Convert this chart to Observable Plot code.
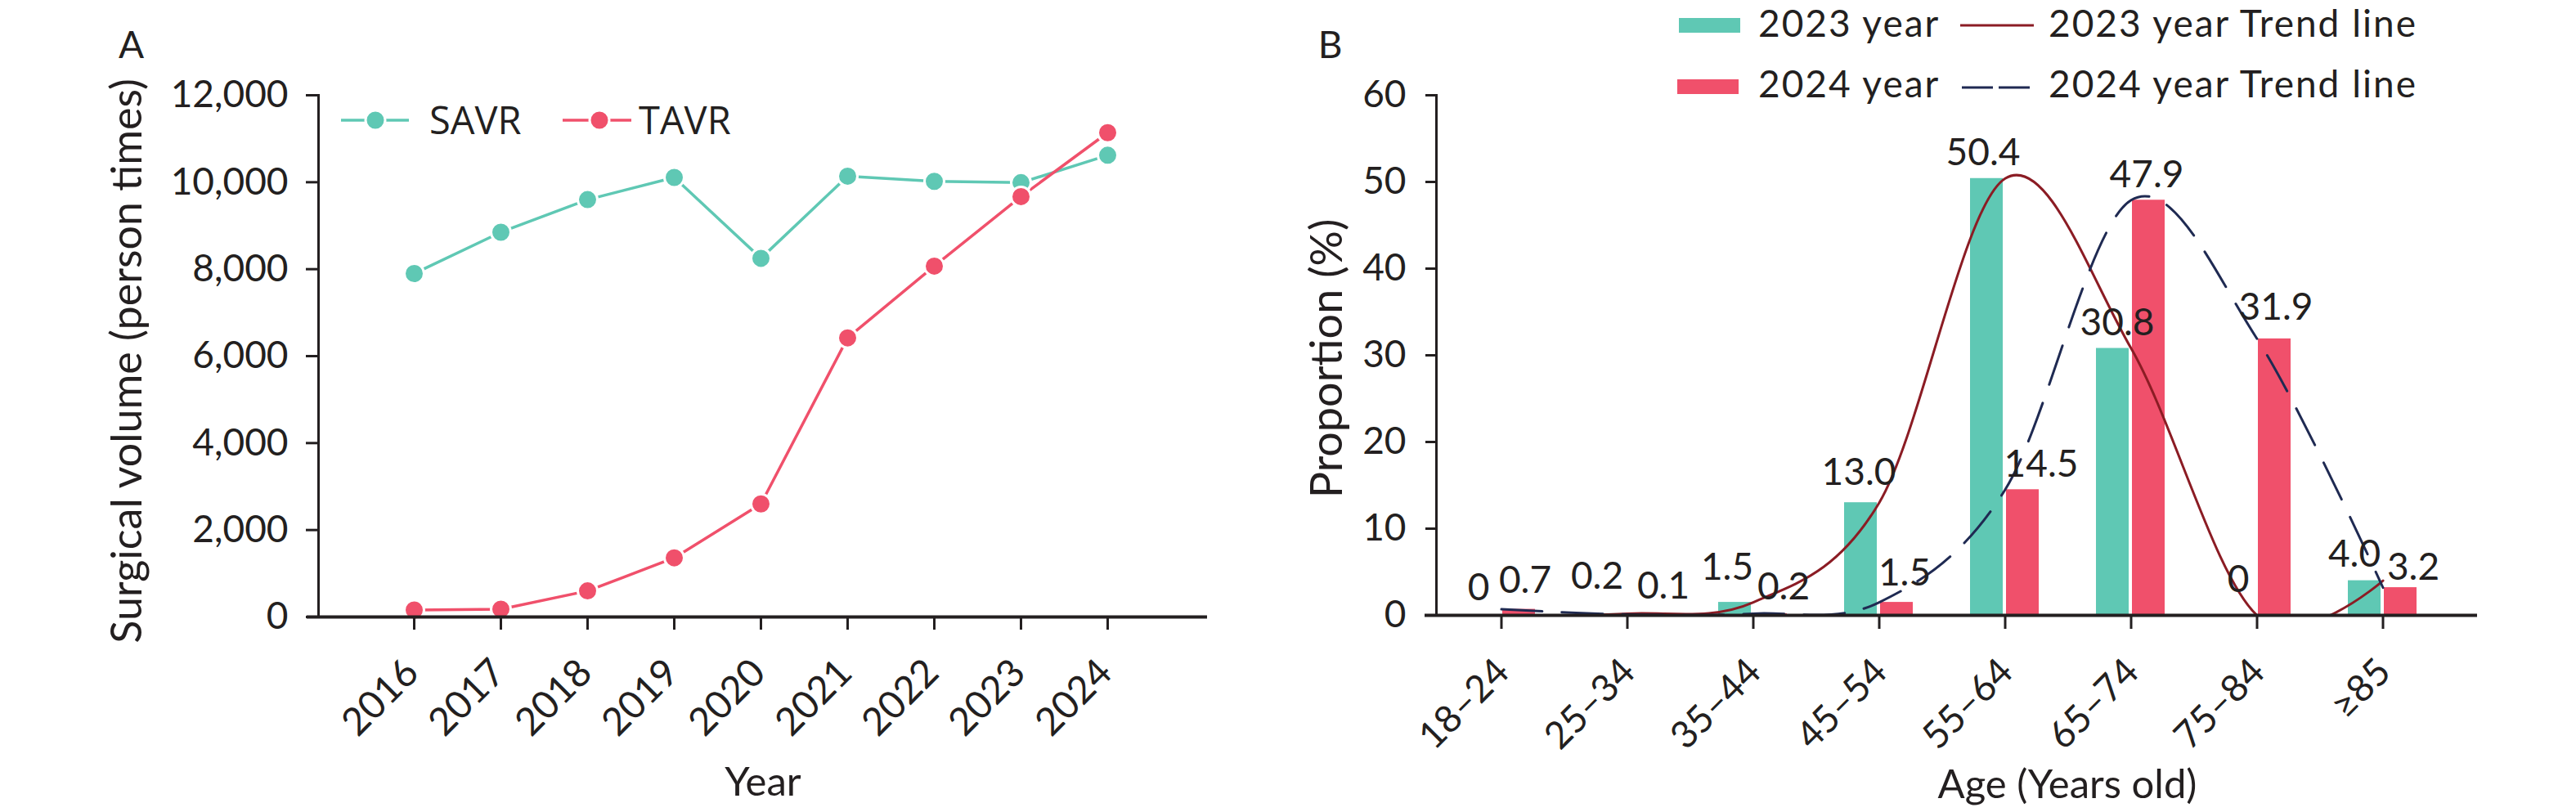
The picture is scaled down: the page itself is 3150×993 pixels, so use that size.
<!DOCTYPE html>
<html>
<head>
<meta charset="utf-8">
<script src="https://cdn.jsdelivr.net/npm/d3@7"></script>
<script src="https://cdn.jsdelivr.net/npm/@observablehq/plot@0.6"></script>
<style>
  html, body { margin: 0; padding: 0; background: #fff; }
  #root { position: relative; width: 3150px; height: 993px; background: #fff; font-family: Lato, "Open Sans", sans-serif; color: #231f20; }
  #a, #b, #leg { position: absolute; top: 0; }
  #a { left: 0; }
  #b { left: 1575px; }
  #leg { left: 0; pointer-events: none; }
</style>
</head>
<body>
<div id="root">
  <div id="a"></div>
  <div id="b"></div>
  <svg id="leg" width="3150" height="200"></svg>
</div>
<script>
// ---------- Data ----------
const years = ["2016", "2017", "2018", "2019", "2020", "2021", "2022", "2023", "2024"];
const savr = [7900, 8850, 9600, 10110, 8250, 10140, 10020, 9990, 10620];
const tavr = [160, 180, 600, 1360, 2600, 6420, 8070, 9670, 11140];
const volumeTicks = [0, 2000, 4000, 6000, 8000, 10000, 12000];

const ages = ["18–24", "25–34", "35–44", "45–54", "55–64", "65–74", "75–84", "≥85"];
const prop2023 = [0, 0.2, 1.5, 13.0, 50.4, 30.8, 0, 4.0];
const prop2024 = [0.7, 0.1, 0.2, 1.5, 14.5, 47.9, 31.9, 3.2];
const propTicks = [0, 10, 20, 30, 40, 50, 60];

const seriesA = ["SAVR", "TAVR"];
const seriesB = ["2023 year", "2024 year", "2023 year Trend line", "2024 year Trend line"];

// ---------- Styles ----------
const ink = "#231f20";
const teal = "#5fc8b4";
const red = "#f0506b";
const trend23 = "#8b1c24";
const trend24 = "#1f2a52";
const FONT = "Lato, 'Open Sans', sans-serif";
const LEGFONT_A = "'Open Sans', Lato, sans-serif";
// value-label nudges (style only: pixel offsets of each label from its bar's category centre / top)
const nudge23 = [[-28, -19], [-37, -30], [-32, -28], [-25, -22], [-27, -16], [-17, -16], [-23, -29], [-35, -17]];
const nudge24 = [[29, -20], [44, -19], [37, -17], [31, -21], [44, -16], [19, -16], [23, -23], [37, -10]];

// ---------- Panel A ----------
const dataA = [
  ...years.map((y, i) => ({year: y, value: savr[i], series: "SAVR"})),
  ...years.map((y, i) => ({year: y, value: tavr[i], series: "TAVR"}))
];
const colorA = {SAVR: teal, TAVR: red};

const plotA = Plot.plot({
  width: 1575,
  height: 993,
  marginLeft: 389,
  marginRight: 99,
  marginTop: 116,
  marginBottom: 239,
  style: {fontFamily: FONT, fontSize: "46px", color: ink, background: "transparent", overflow: "visible"},
  x: {type: "point", domain: years, range: [450, 1410], axis: null},
  y: {domain: [0, 12000], axis: null},
  marks: [
    Plot.line(dataA, {x: "year", y: "value", z: "series", stroke: d => colorA[d.series], strokeWidth: 3.5}),
    Plot.dot(dataA, {x: "year", y: "value", r: 12, fill: d => colorA[d.series], stroke: "white", strokeWidth: 3}),
    Plot.axisY({ticks: volumeTicks, tickFormat: d3.format(","), label: null, tickSize: 15, tickPadding: 22, strokeWidth: 3, fontSize: 46, fill: ink, stroke: ink}),
    Plot.axisX({tickSize: 16, tickFormat: () => "", label: null, strokeWidth: 3, stroke: ink}),
    Plot.frame({anchor: "left", stroke: ink, strokeWidth: 3}),
    Plot.ruleY([0], {stroke: ink, strokeWidth: 4, insetLeft: -14}),
    Plot.text(years, {x: d => d, frameAnchor: "bottom", text: d => d, rotate: -45, textAnchor: "end", lineAnchor: "bottom", dx: 8, dy: 71, fontSize: 47, fill: ink}),
    Plot.text(["Surgical volume (person times)"], {frameAnchor: "left", text: d => d, rotate: -90, textAnchor: "middle", lineAnchor: "middle", dx: -233, dy: 6, fontSize: 52, fill: ink}),
    Plot.text(["Year"], {frameAnchor: "bottom", text: d => d, textAnchor: "middle", lineAnchor: "bottom", dy: 218, fontSize: 49, fill: ink}),
    Plot.text(["A"], {frameAnchor: "top-left", text: d => d, textAnchor: "middle", lineAnchor: "bottom", dx: -229, dy: -46, fontSize: 46, fill: ink})
  ]
});
document.getElementById("a").appendChild(plotA);

// ---------- Panel B ----------
const d23 = ages.map((a, i) => ({age: a, value: prop2023[i], i}));
const d24 = ages.map((a, i) => ({age: a, value: prop2024[i], i}));
const fmt = v => v === 0 ? "0" : v.toFixed(1);

const valueLabels = (data, nudge) => data.map(d =>
  Plot.text([d], {x: "age", y: "value", text: e => fmt(e.value), dx: nudge[d.i][0], dy: nudge[d.i][1], lineAnchor: "bottom", textAnchor: "middle", fontSize: 46, fill: ink})
);

const plotB = Plot.plot({
  width: 1575,
  height: 993,
  marginLeft: 181,
  marginRight: 121,
  marginTop: 116,
  marginBottom: 241,
  style: {fontFamily: FONT, fontSize: "46px", color: ink, background: "transparent", overflow: "visible"},
  x: {type: "band", domain: ages, range: [180.5, 1419.5], paddingInner: 0.445, paddingOuter: 0.2225, axis: null},
  y: {domain: [0, 60], axis: null},
  marks: [
    Plot.barY(d23, {x: "age", y: "value", fill: teal, insetLeft: 0, insetRight: 45}),
    Plot.barY(d24, {x: "age", y: "value", fill: red, insetLeft: 44, insetRight: 1}),
    Plot.line(d23, {x: "age", y: "value", curve: "cardinal", stroke: trend23, strokeWidth: 3, clip: true}),
    Plot.line(d24, {x: "age", y: "value", curve: "cardinal", stroke: trend24, strokeWidth: 3, strokeDasharray: "50,24", clip: true}),
    ...valueLabels(d23, nudge23),
    ...valueLabels(d24, nudge24),
    Plot.axisY({ticks: propTicks, label: null, tickSize: 13, tickPadding: 24, strokeWidth: 3, fontSize: 46, fill: ink, stroke: ink}),
    Plot.axisX({tickSize: 17, tickFormat: () => "", label: null, strokeWidth: 3, stroke: ink}),
    Plot.frame({anchor: "left", stroke: ink, strokeWidth: 3}),
    Plot.ruleY([0], {stroke: ink, strokeWidth: 4, insetLeft: -14}),
    Plot.text(ages, {x: d => d, frameAnchor: "bottom", text: d => d, rotate: -45, textAnchor: "end", lineAnchor: "bottom", dx: 12, dy: 72, fontSize: 46, fill: ink}),
    Plot.text(["Proportion (%)"], {frameAnchor: "left", text: d => d, rotate: -90, textAnchor: "middle", lineAnchor: "middle", dx: -133, dy: 4, fontSize: 54, fill: ink}),
    Plot.text(["Age (Years old)"], {frameAnchor: "bottom", text: d => d, textAnchor: "middle", lineAnchor: "bottom", dx: 135, dy: 223, fontSize: 49, fill: ink}),
    Plot.text(["B"], {frameAnchor: "top-left", text: d => d, textAnchor: "middle", lineAnchor: "bottom", dx: -130, dy: -46, fontSize: 46, fill: ink})
  ]
});
document.getElementById("b").appendChild(plotB);

// ---------- Legends ----------
const leg = d3.select("#leg");
// Panel A legend
const legAItems = [
  {name: seriesA[0], color: teal, x0: 417, x1: 500, cx: 459, tx: 525},
  {name: seriesA[1], color: red, x0: 688, x1: 772, cx: 733, tx: 781}
];
legAItems.forEach(it => {
  const g = leg.append("g");
  g.append("line").attr("x1", it.x0).attr("x2", it.x1).attr("y1", 147).attr("y2", 147)
    .attr("stroke", it.color).attr("stroke-width", 3.5);
  g.append("circle").attr("cx", it.cx).attr("cy", 147).attr("r", 12)
    .attr("fill", it.color).attr("stroke", "white").attr("stroke-width", 3);
  g.append("text").attr("x", it.tx).attr("y", 164).text(it.name)
    .attr("font-family", LEGFONT_A).attr("font-size", 47).attr("fill", ink);
});
// Panel B legend
const legB = [
  {type: "rect", color: teal, x: 2053, y: 22, label: seriesB[0], tx: 2150, ty: 45},
  {type: "rect", color: red, x: 2051, y: 97, label: seriesB[1], tx: 2150, ty: 119},
  {type: "line", color: trend23, x0: 2397, x1: 2487, y: 31, dash: null, label: seriesB[2], tx: 2505, ty: 45},
  {type: "line", color: trend24, x0: 2399, x1: 2483, y: 107, dash: "38,7", label: seriesB[3], tx: 2505, ty: 119}
];
legB.forEach(it => {
  const g = leg.append("g");
  if (it.type === "rect") {
    g.append("rect").attr("x", it.x).attr("y", it.y).attr("width", 75).attr("height", 18).attr("fill", it.color);
  } else {
    const l = g.append("line").attr("x1", it.x0).attr("x2", it.x1).attr("y1", it.y).attr("y2", it.y)
      .attr("stroke", it.color).attr("stroke-width", 3);
    if (it.dash) l.attr("stroke-dasharray", it.dash);
  }
  g.append("text").attr("x", it.tx).attr("y", it.ty).text(it.label)
    .attr("font-family", FONT).attr("font-size", 46).attr("letter-spacing", "2px").attr("fill", ink);
});
</script>
</body>
</html>
